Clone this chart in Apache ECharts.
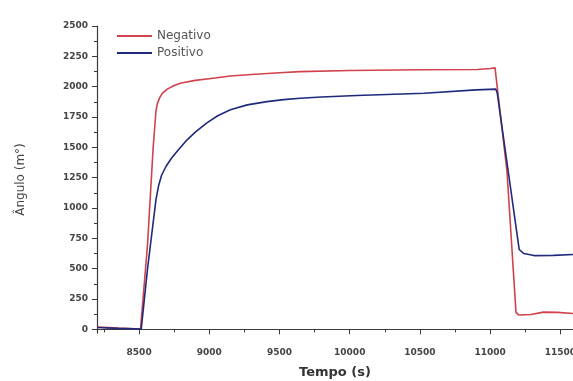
<!DOCTYPE html>
<html>
<head>
<meta charset="utf-8">
<script src="https://cdn.jsdelivr.net/npm/echarts@6/dist/echarts.min.js"></script>
<style>
  html, body { margin: 0; padding: 0; background: #fff; }
  #chart { width: 573px; height: 381px; }
</style>
</head>
<body>
<div id="chart"></div>
<script>
// curva "Negativo" (tiempo en s, ángulo en m°)
const negTime = [8200, 8350, 8510, 8560, 8600, 8620, 8630, 8645, 8665, 8700, 8750, 8800, 8900, 9025, 9150, 9300, 9500, 9646, 10000, 10500, 10910, 11000, 11035, 11045, 11120, 11184, 11205, 11290, 11380, 11480, 11600];
const negValue = [20, 10, 3, 700, 1500, 1800, 1860, 1905, 1945, 1980, 2010, 2030, 2052, 2070, 2088, 2100, 2115, 2124, 2133, 2140, 2142, 2150, 2155, 2050, 1300, 140, 118, 123, 142, 140, 130];

// curva "Positivo"
const posTime = [8200, 8350, 8515, 8560, 8620, 8640, 8660, 8690, 8730, 8780, 8840, 8900, 8980, 9060, 9150, 9270, 9410, 9530, 9646, 9800, 10050, 10530, 10900, 11040, 11050, 11207, 11240, 11312, 11450, 11600];
const posValue = [15, 8, 2, 500, 1069, 1190, 1270, 1340, 1410, 1480, 1560, 1625, 1700, 1760, 1810, 1850, 1877, 1893, 1905, 1915, 1927, 1946, 1974, 1980, 1950, 658, 625, 608, 610, 617];

const xTicks = [8500, 9000, 9500, 10000, 10500, 11000, 11500];
const xMinorTicks = [8250, 8750, 9250, 9750, 10250, 10750, 11250];
const yTicks = [0, 250, 500, 750, 1000, 1250, 1500, 1750, 2000, 2250, 2500];
const yMinorTicks = [125, 375, 625, 875, 1125, 1375, 1625, 1875, 2125, 2375];

const pairs = (xs, ys) => xs.map((x, i) => [x, ys[i]]);

const FONT = '"DejaVu Sans", "Liberation Sans", Arial, sans-serif';
const axisCol = '#3a3a3a';
const plain = v => String(v);

const chart = echarts.init(document.getElementById('chart'));
chart.setOption({
  backgroundColor: '#fff',
  animation: false,
  textStyle: { fontFamily: FONT },
  grid: { left: 97, right: 0, top: 26, bottom: 48, outerBoundsMode: 'none', containLabel: false },
  legend: {
    left: 112,
    top: 25,
    orient: 'vertical',
    icon: 'rect',
    itemGap: 5,
    itemWidth: 35,
    itemHeight: 2,
    textStyle: { fontSize: 12, color: '#555', fontFamily: FONT },
    data: ['Negativo', 'Positivo']
  },
  xAxis: [{
    type: 'value',
    min: 8200,
    max: 11590,
    name: 'Tempo (s)',
    nameLocation: 'middle',
    nameGap: 33,
    nameTextStyle: { fontSize: 13, fontWeight: 'bold', color: '#333' },
    axisLine: { lineStyle: { color: axisCol, width: 1.2 } },
    axisTick: { customValues: xTicks, length: 5, lineStyle: { color: axisCol } },
    axisLabel: { customValues: xTicks, formatter: plain, fontSize: 9, fontWeight: 'bold', color: '#444', margin: 15 },
    splitLine: { show: false }
  }, {
    type: 'value',
    min: 8200,
    max: 11590,
    position: 'bottom',
    axisLine: { show: false },
    axisTick: { customValues: xMinorTicks, length: 3, lineStyle: { color: axisCol } },
    axisLabel: { show: false },
    splitLine: { show: false }
  }],
  yAxis: [{
    type: 'value',
    min: -30,
    max: 2500,
    name: 'Ângulo (m°)',
    nameLocation: 'middle',
    nameGap: 70,
    nameTextStyle: { fontSize: 12, color: '#444' },
    axisLine: { show: true, lineStyle: { color: axisCol, width: 1.2 } },
    axisTick: { show: true, customValues: yTicks, length: 5, lineStyle: { color: axisCol } },
    axisLabel: { customValues: yTicks, formatter: plain, fontSize: 9, fontWeight: 'bold', color: '#444', margin: 9 },
    splitLine: { show: false }
  }, {
    type: 'value',
    min: -30,
    max: 2500,
    position: 'left',
    axisLine: { show: false },
    axisTick: { show: true, customValues: yMinorTicks, length: 3, lineStyle: { color: axisCol } },
    axisLabel: { show: false },
    splitLine: { show: false }
  }],
  series: [{
    name: 'Negativo',
    type: 'line',
    symbol: 'none',
    data: pairs(negTime, negValue),
    lineStyle: { color: '#d0424c', width: 1.6 },
    itemStyle: { color: '#d0424c' }
  }, {
    name: 'Positivo',
    type: 'line',
    symbol: 'none',
    data: pairs(posTime, posValue),
    lineStyle: { color: '#1f2a7c', width: 1.6 },
    itemStyle: { color: '#1f2a7c' }
  }]
});
</script>
</body>
</html>
